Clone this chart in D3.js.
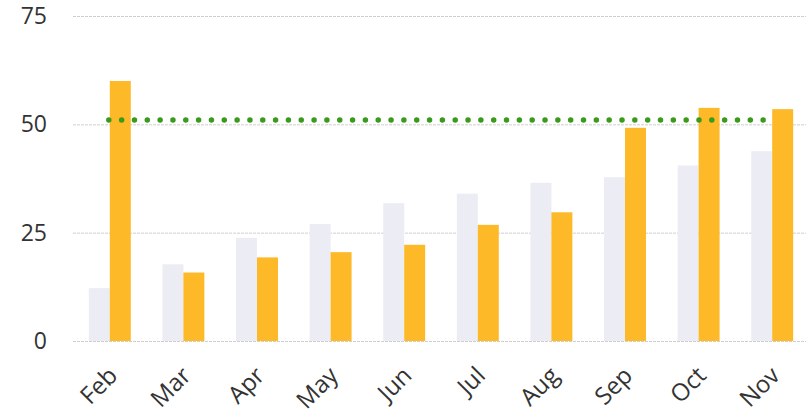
<!DOCTYPE html>
<html>
<head>
<meta charset="utf-8">
<script src="https://cdn.jsdelivr.net/npm/d3@7"></script>
<style>
  html, body { margin: 0; padding: 0; background: #fff; }
  svg { display: block; }
  text { font-family: "Open Sans", sans-serif; fill: #333; }
</style>
</head>
<body>
<svg id="chart" width="810" height="417"></svg>
<script>
const categories = ["Feb", "Mar", "Apr", "May", "Jun", "Jul", "Aug", "Sep", "Oct", "Nov"];
const seriesA = [12.2, 17.7, 23.8, 27.0, 31.8, 34.0, 36.5, 37.8, 40.5, 43.8];
const seriesB = [60.0, 15.8, 19.3, 20.5, 22.2, 26.8, 29.7, 49.2, 53.8, 53.5];
const targetValue = 51;
const yTicks = [0, 25, 50, 75];

const svg = d3.select("#chart");
const mLeft = 73, mRight = 809, mTop = 16, mBottom = 341;

const x = d3.scaleBand().domain(categories).range([mLeft, mRight])
  .paddingInner(0.43).paddingOuter(0.215);
const sub = d3.scaleBand().domain(["a", "b"]).range([0, x.bandwidth()]).padding(0);
const y = d3.scaleLinear().domain([0, 75]).range([mBottom, mTop]);

// gridlines
svg.append("g").selectAll("line").data(yTicks).join("line")
  .attr("x1", mLeft).attr("x2", 806)
  .attr("y1", d => y(d) + 0.5).attr("y2", d => y(d) + 0.5)
  .attr("stroke", "#cfcfcf").attr("stroke-width", 1)
  .attr("stroke-dasharray", "3,1");

// y axis labels
const yAxis = d3.axisLeft(y).tickValues(yTicks).tickSize(0).tickPadding(0);
const gy = svg.append("g").attr("transform", "translate(47,0)").call(yAxis);
gy.select(".domain").remove();
gy.selectAll("text").attr("font-size", 23).attr("fill", "#333")
  .style("font-family", "'Open Sans', sans-serif");

// bars
const g = svg.append("g");
g.selectAll("rect.a").data(categories).join("rect").attr("class", "a")
  .attr("x", (d) => x(d) + sub("a"))
  .attr("width", sub.bandwidth())
  .attr("y", (d, i) => y(seriesA[i]))
  .attr("height", (d, i) => y(0) - y(seriesA[i]))
  .attr("fill", "#ececf5");
g.selectAll("rect.b").data(categories).join("rect").attr("class", "b")
  .attr("x", (d) => x(d) + sub("b"))
  .attr("width", sub.bandwidth())
  .attr("y", (d, i) => y(seriesB[i]))
  .attr("height", (d, i) => y(0) - y(seriesB[i]))
  .attr("fill", "#fdb927");

// dotted target line
const cx = d => x(d) + x.bandwidth() / 2;
svg.append("line")
  .attr("x1", cx(categories[0]) - 1)
  .attr("x2", cx(categories[categories.length - 1]))
  .attr("y1", y(targetValue)).attr("y2", y(targetValue))
  .attr("stroke", "#3a9a1c").attr("stroke-width", 5.5)
  .attr("stroke-linecap", "round")
  .attr("stroke-dasharray", "0,12.83");

// x axis labels
const xAxis = d3.axisBottom(x).tickSize(0).tickPadding(0);
const gx = svg.append("g").attr("transform", `translate(0,${mBottom})`).call(xAxis);
gx.select(".domain").remove();
gx.selectAll("text")
  .attr("font-size", 24).attr("fill", "#333")
  .style("font-family", "'Open Sans', sans-serif")
  .attr("text-anchor", "end")
  .attr("dy", null).attr("y", 0)
  .attr("transform", "translate(9,36) rotate(-45)");
</script>
</body>
</html>
